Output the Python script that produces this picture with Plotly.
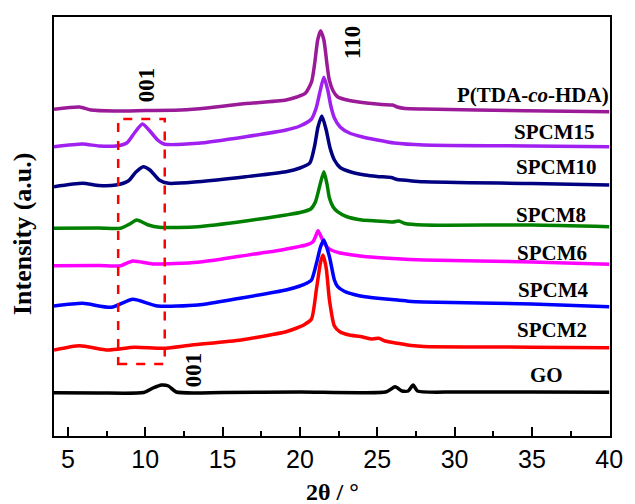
import plotly.graph_objects as go

# ---- data (2θ in degrees, intensity in a.u. with vertical offsets) ----
ptda_x = [4.1, 5.75, 6.5, 8.0, 10.0, 12.3, 14.0, 16.2, 19.1, 19.8, 20.35, 20.75, 20.95, 21.15, 21.34, 21.55, 21.75, 21.9, 22.15, 22.43, 23.2, 24.3, 25.3, 26.0, 26.3, 26.8, 28.0, 34.6, 40.0]
ptda_y = [326.7, 329, 326, 325, 325.5, 326, 328, 332, 336, 339, 342.7, 354, 372, 396, 405.3, 396, 372, 356, 345, 339.3, 335.5, 333, 331.5, 331, 329, 327.5, 327, 325.3, 324.3]

spcm15_x = [4.1, 5.95, 7.0, 8.1, 8.8, 9.3, 9.82, 10.3, 10.8, 11.2, 13.4, 16.5, 19.1, 20.0, 20.75, 21.05, 21.28, 21.55, 21.8, 22.0, 22.23, 22.6, 23.2, 24.0, 25.0, 26.1, 28.0, 35.0, 40.0]
spcm15_y = [289.3, 292, 290, 290, 293, 303, 312, 305, 296, 292, 292.7, 299.3, 306, 310, 317, 328, 343, 358.7, 346, 330, 318, 309, 303, 299.3, 296, 293, 291, 290, 289.3]

spcm10_x = [4.1, 5.95, 7.0, 8.1, 8.9, 9.4, 9.88, 10.3, 10.9, 11.5, 13.4, 16.5, 19.1, 20.0, 20.64, 20.95, 21.17, 21.42, 21.7, 21.95, 22.23, 22.6, 23.3, 24.2, 25.0, 25.9, 26.3, 27.0, 28.0, 35.0, 40.0]
spcm10_y = [249.3, 252.7, 250.5, 251, 255, 264, 269.3, 266, 256, 252.7, 254.3, 259.3, 264.3, 268, 273, 290, 309, 320, 306, 288, 276, 268.5, 264, 261, 259.5, 258.5, 256.5, 255.5, 254.3, 252.5, 251]

spcm8_x = [4.1, 7.0, 8.4, 9.0, 9.45, 10.2, 10.9, 13.4, 16.5, 19.1, 20.0, 20.7, 21.0, 21.28, 21.55, 21.75, 21.91, 22.15, 22.43, 23.0, 24.0, 25.0, 26.0, 26.4, 26.8, 28.0, 35.0, 40.0]
spcm8_y = [207.7, 208, 207.7, 212, 216, 211, 208.7, 209.3, 215, 221, 223.5, 227, 234, 250, 264.3, 252, 238, 229, 224.3, 219.5, 216, 215, 214, 215, 212.5, 211, 211, 209.3]

spcm6_x = [4.1, 7.0, 8.4, 9.2, 10.5, 13.4, 16.2, 18.8, 19.8, 20.4, 20.83, 21.0, 21.17, 21.35, 21.49, 21.75, 22.02, 22.6, 23.4, 24.3, 26.0, 28.0, 35.0, 40.0]
spcm6_y = [170.3, 170.5, 170.3, 175, 172, 173.7, 180, 186, 189, 191, 194, 199, 205.3, 200, 195, 189, 186, 183, 181, 179.3, 177.5, 176, 174, 171.7]

spcm4_x = [4.1, 5.95, 7.8, 9.2, 10.8, 13.4, 16.2, 19.1, 20.0, 20.4, 20.75, 21.07, 21.34, 21.55, 21.91, 22.23, 22.44, 22.9, 23.5, 24.2, 25.2, 26.3, 27.2, 28.0, 35.0, 40.0]
spcm4_y = [130, 132.7, 128.7, 136.7, 130, 131, 138, 146, 150, 152.5, 156, 172.7, 189.3, 196, 179.3, 156, 149.3, 144.5, 141.5, 139.3, 137.5, 136, 134.5, 134, 132, 129.3]

spcm2_x = [4.1, 5.75, 7.6, 9.3, 11.2, 13.0, 16.2, 19.1, 19.8, 20.3, 20.75, 21.07, 21.34, 21.49, 21.7, 21.91, 22.23, 22.6, 23.2, 23.9, 24.7, 25.1, 25.5, 26.3, 27.2, 28.0, 32.0, 35.0, 40.0]
spcm2_y = [86, 90.3, 86, 88.7, 87.7, 91, 96, 104.3, 108, 111.5, 117, 147, 174, 181, 168, 136, 110, 104, 101, 99.5, 97, 97.8, 95, 92.7, 90.5, 89.5, 89, 88.8, 88.3]

go_x = [4.1, 7.0, 9.9, 10.5, 11.05, 11.5, 12.0, 15.0, 20.0, 25.6, 26.16, 26.6, 27.0, 27.32, 27.6, 30.0, 35.0, 40.0]
go_y = [43.3, 43, 43.5, 48, 51, 50, 44, 43.5, 44, 44.3, 49.3, 45, 45, 51, 45, 44, 44, 43.7]

series_names = ["P(TDA-<i>co</i>-HDA)", "SPCM15", "SPCM10", "SPCM8", "SPCM6", "SPCM4", "SPCM2", "GO"]
series_x = [ptda_x, spcm15_x, spcm10_x, spcm8_x, spcm6_x, spcm4_x, spcm2_x, go_x]
series_y = [ptda_y, spcm15_y, spcm10_y, spcm8_y, spcm6_y, spcm4_y, spcm2_y, go_y]
colors = ["#9A1A98", "#A020F0", "#000080", "#008000", "#FF00FF", "#0000FF", "#FF0000", "#000000"]

label_x = [35.04, 36.43, 36.56, 36.24, 36.27, 36.34, 36.27, 35.96]
label_y = [341, 304.3, 269.3, 221, 183.3, 146, 106, 61]

peak_labels = ["001", "110", "001"]
peak_x = [10.06, 23.37, 13.1]
peak_y = [351, 393, 66]

box_x = [8.25, 11.26]
box_y = [72, 317]

x_range = [4.1, 40.05]
y_range = [0, 419]
x_ticks = [5, 10, 15, 20, 25, 30, 35, 40]

SERIF = "Liberation Serif, Times New Roman, serif"
SANS = "Liberation Sans, Arial, sans-serif"

fig = go.Figure()
for nm, xs, ys, c in zip(series_names, series_x, series_y, colors):
    fig.add_trace(go.Scatter(x=xs, y=ys, mode="lines", name=nm,
                             line=dict(color=c, width=3.5, shape="spline", smoothing=0.6),
                             showlegend=False, hoverinfo="skip"))

for nm, lx, ly in zip(series_names, label_x, label_y):
    fig.add_annotation(x=lx, y=ly, text="<b>%s</b>" % nm, showarrow=False,
                       font=dict(family=SERIF, size=21, color="black"),
                       xanchor="center", yanchor="middle")

for t, px, py in zip(peak_labels, peak_x, peak_y):
    fig.add_annotation(x=px, y=py, text="<b>%s</b>" % t, showarrow=False, textangle=-90,
                       font=dict(family=SERIF, size=23, color="black"),
                       xanchor="center", yanchor="middle")

fig.add_shape(type="rect", x0=box_x[0], x1=box_x[1], y0=box_y[0], y1=box_y[1],
              line=dict(color="#FF0000", width=2.5, dash="dash"), fillcolor="rgba(0,0,0,0)")

fig.add_annotation(xref="paper", yref="paper", x=0.5, y=0, yshift=-56,
                   text="<b>2θ / °</b>", showarrow=False,
                   font=dict(family=SERIF, size=24, color="black"),
                   xanchor="center", yanchor="middle")
fig.add_annotation(xref="paper", yref="paper", x=0, xshift=-32, y=0.482,
                   text="<b>Intensity (a.u.)</b>", showarrow=False, textangle=-90,
                   font=dict(family=SERIF, size=26, color="black"),
                   xanchor="center", yanchor="middle")

fig.update_layout(
    width=635, height=504,
    margin=dict(l=54, r=15, t=17, b=68),
    paper_bgcolor="white", plot_bgcolor="white",
    showlegend=False,
)
fig.update_xaxes(range=x_range, tickvals=x_ticks, ticks="inside", ticklen=9, tickwidth=1.5,
                 tickcolor="black", showline=True, linecolor="black", linewidth=1.5,
                 mirror=True, showgrid=False, zeroline=False,
                 tickfont=dict(family=SANS, size=25, color="black"),
                 minor=dict(tickvals=[7.5, 12.5, 17.5, 22.5, 27.5, 32.5, 37.5], ticks="inside",
                            ticklen=5, tickwidth=1.5, tickcolor="black", showgrid=False))
fig.update_yaxes(range=y_range, showticklabels=False, ticks="", showline=True,
                 linecolor="black", linewidth=1.5, mirror=True, showgrid=False, zeroline=False)

fig.write_html("out.html")
